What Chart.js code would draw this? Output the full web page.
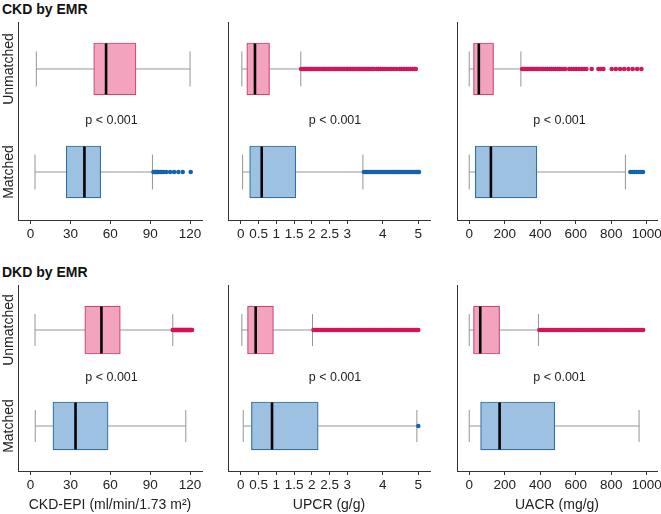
<!DOCTYPE html>
<html><head><meta charset="utf-8">
<script src="https://cdn.jsdelivr.net/npm/chart.js@4.4.1/dist/chart.umd.min.js"></script>
<style>
html,body{margin:0;padding:0;background:#fff;}
#wrap{position:relative;width:661px;height:514px;overflow:hidden;font-family:"Liberation Sans",Arial,sans-serif;}
.ttl{position:absolute;left:2px;font-weight:bold;font-size:14px;line-height:16px;color:#111;white-space:nowrap;}
.cv{position:absolute;}
</style></head>
<body><div id="wrap"></div>
<script>
// ---------- data ----------
const rowTitles = ["CKD by EMR", "DKD by EMR"];
const groups = ["Unmatched", "Matched"];
const groupPos = [1, 0];
const xTitles = ["CKD-EPI (ml/min/1.73 m\u00B2)", "UPCR (g/g)", "UACR (mg/g)"];
const egfrTicks = [0, 30, 60, 90, 120];
const upcrTicks = [0, 0.5, 1, 1.5, 2, 2.5, 3, 4, 5];
const uacrTicks = [0, 200, 400, 600, 800, 1000];
const pText = "p < 0.001";

// five-number summaries: [min, q1, median, q3, max]
const ckdEgfrU = [4.3, 47.5, 56.8, 79.3, 120];
const ckdEgfrM = [3.3, 26.8, 40.5, 52.8, 91.7];
const ckdUpcrU = [0.03, 0.17, 0.40, 0.81, 1.69];
const ckdUpcrM = [0.05, 0.25, 0.59, 1.55, 3.44];
const ckdUacrU = [0, 24, 54, 137, 291];
const ckdUacrM = [0, 34, 122, 381, 880];
const dkdEgfrU = [3.3, 40.8, 53.3, 67.5, 107];
const dkdEgfrM = [3.5, 16.8, 33.8, 58.3, 116.8];
const dkdUpcrU = [0.03, 0.19, 0.42, 0.92, 2.02];
const dkdUpcrM = [0.07, 0.30, 0.88, 2.18, 4.96];
const dkdUacrU = [0, 24, 62, 171, 390];
const dkdUacrM = [0, 64, 171, 482, 957];

// outliers
const ckdEgfrOutU = [];
const ckdEgfrOutM = [92.5, 93.3, 94, 94.8, 95.6, 96.4, 97.5, 98.5, 100, 102, 105, 108, 111.2, 114.5, 120.5];
const ckdUpcrOutU = [1.70,1.74,1.78,1.82,1.86,1.90,1.95,1.99,2.03,2.07,2.12,2.16,2.20,2.24,2.29,2.33,2.37,2.41,2.46,2.50,2.54,2.58,2.63,2.67,2.71,2.75,2.80,2.84,2.88,2.92,2.97,3.01,3.05,3.09,3.14,3.18,3.22,3.26,3.31,3.35,3.39,3.43,3.48,3.52,3.56,3.60,3.65,3.70,3.75,3.83,3.88,3.94,4.00,4.06,4.12,4.19,4.25,4.31,4.38,4.47,4.53,4.59,4.66,4.72,4.78,4.84,4.89,4.93];
const ckdUpcrOutM = [3.47,3.51,3.55,3.59,3.63,3.67,3.71,3.75,3.79,3.83,3.87,3.91,3.95,3.99,4.03,4.07,4.11,4.15,4.19,4.23,4.27,4.31,4.35,4.39,4.43,4.47,4.51,4.55,4.59,4.63,4.67,4.71,4.75,4.79,4.83,4.87,4.91,4.95,4.99,5.02];
const ckdUacrOutU = [298,308,318,328,338,348,358,368,378,388,398,408,418,430,440,452,462,474,486,496,508,518,530,540,563,576,590,603,618,634,648,660,690,728,742,756,803,826,850,873,897,921,946,970];
const ckdUacrOutM = [908,920,932,944,956,968,979];
const dkdEgfrOutU = [107,107.5,108,108.5,109,109.5,110,110.5,111,111.5,112,112.5,113,113.5,114,114.5,115,115.5,116,116.5,117,117.5,118,118.5,119,119.5,120,120.5,121,121.5];
const dkdEgfrOutM = [];
const dkdUpcrOutU = [2.05,2.10,2.15,2.20,2.25,2.30,2.35,2.40,2.45,2.50,2.55,2.60,2.65,2.70,2.75,2.80,2.85,2.90,2.95,3.00,3.05,3.10,3.15,3.20,3.25,3.30,3.35,3.40,3.45,3.50,3.55,3.60,3.65,3.70,3.75,3.80,3.85,3.90,3.95,4.00,4.05,4.10,4.15,4.20,4.25,4.30,4.35,4.40,4.45,4.50,4.55,4.60,4.65,4.70,4.75,4.80,4.85,4.90,4.95,5.00];
const dkdUpcrOutM = [5.0];
const dkdUacrOutU = [395,407,419,431,443,455,467,479,491,503,515,527,539,551,563,575,587,599,611,623,635,647,659,671,683,695,707,719,731,743,755,767,779,791,803,815,827,839,851,863,875,887,899,911,923,935,947,959,971,980];
const dkdUacrOutM = [];

// ---------- style / layout ----------
const FONT = '"Liberation Sans", Arial, sans-serif';
const fillC = ['#F4A3BF', '#9DC1E1'];
const edgeC = ['#C8477A', '#2F6FA8'];
const outC = ['#D6135B', '#1763A6'];
const whiskC = '#959595';
const axisC = '#333333';

const colLayout = [
  {left: 0, width: 210, padR: 8, xmin: -9.5, xmax: 129, ticks: egfrTicks, pdx: 1.5},
  {left: 210, width: 228, padR: 8, xmin: -0.36, xmax: 5.33, ticks: upcrTicks, pdx: 6},
  {left: 439, width: 222, padR: 4, xmin: -69, xmax: 1058, ticks: uacrTicks, pdx: 2.5}
];
const rowLayout = [
  {top: 14, height: 230, xH: 24, ymin: -0.466, ymax: 1.456, boxH: 52, capR: 17.5, titleTop: 1},
  {top: 277, height: 237, xH: 43, ymin: -0.469, ymax: 1.469, boxH: 48, capR: 16, titleTop: 264}
];
const YW = 18, PADT = 8;

const panels = [
  [[ckdEgfrU, ckdEgfrM, ckdEgfrOutU, ckdEgfrOutM], [ckdUpcrU, ckdUpcrM, ckdUpcrOutU, ckdUpcrOutM], [ckdUacrU, ckdUacrM, ckdUacrOutU, ckdUacrOutM]],
  [[dkdEgfrU, dkdEgfrM, dkdEgfrOutU, dkdEgfrOutM], [dkdUpcrU, dkdUpcrM, dkdUpcrOutU, dkdUpcrOutM], [dkdUacrU, dkdUacrM, dkdUacrOutU, dkdUacrOutM]]
];

const annot = {
  id: 'annot',
  afterDatasetsDraw(chart, args, o) {
    const {ctx, chartArea, scales} = chart;
    ctx.save();
    ctx.fillStyle = '#222';
    ctx.textAlign = 'center';
    ctx.textBaseline = 'middle';
    ctx.font = '12.5px ' + FONT;
    ctx.fillText(pText, (chartArea.left + chartArea.right) / 2 + o.dx, scales.y.getPixelForValue(0.5));
    if (o.showGroups) {
      ctx.font = '14px ' + FONT;
      groups.forEach((g, i) => {
        const y = scales.y.getPixelForValue(groupPos[i]);
        ctx.save();
        ctx.translate(chartArea.left - 9, y);
        ctx.rotate(-Math.PI / 2);
        ctx.fillText(g, 0, 0);
        ctx.restore();
      });
    }
    ctx.restore();
  }
};

const wrap = document.getElementById('wrap');
rowTitles.forEach((t, r) => {
  const d = document.createElement('div');
  d.className = 'ttl'; d.textContent = t; d.style.top = rowLayout[r].titleTop + 'px';
  wrap.appendChild(d);
});
for (let r = 0; r < 2; r++) {
  for (let c = 0; c < 3; c++) {
    const R = rowLayout[r], C = colLayout[c];
    const [sU, sM, oU, oM] = panels[r][c];
    const stats = [sU, sM];
    const outs = [oU, oM];
    const cv = document.createElement('canvas');
    cv.className = 'cv';
    cv.width = C.width; cv.height = R.height;
    cv.style.left = C.left + 'px'; cv.style.top = R.top + 'px';
    cv.style.width = C.width + 'px'; cv.style.height = R.height + 'px';
    wrap.appendChild(cv);

    const datasets = [];
    stats.forEach((s, i) => {
      datasets.push({type: 'scatter', showLine: true, data: [{x: s[0], y: groupPos[i]}, {x: s[4], y: groupPos[i]}],
        borderColor: whiskC, borderWidth: 1, pointRadius: 0, order: 10});
      datasets.push({type: 'scatter', data: [{x: s[0], y: groupPos[i]}, {x: s[4], y: groupPos[i]}],
        pointStyle: 'line', pointRotation: 90, pointRadius: R.capR, pointBorderColor: whiskC, pointBorderWidth: 1, order: 9});
    });
    datasets.push({type: 'bar', indexAxis: 'y', data: stats.map((s, i) => ({x: [s[1], s[3]], y: groupPos[i]})),
      backgroundColor: fillC, borderColor: edgeC, borderWidth: 1.2, borderSkipped: false, barThickness: R.boxH, order: 5});
    stats.forEach((s, i) => {
      datasets.push({type: 'scatter', data: outs[i].map(v => ({x: v, y: groupPos[i]})),
        pointRadius: 2.3, pointBackgroundColor: outC[i], pointBorderWidth: 0, order: 3});
    });
    datasets.push({type: 'scatter', data: stats.map((s, i) => ({x: s[2], y: groupPos[i]})),
      pointStyle: 'line', pointRotation: 90, pointRadius: R.boxH / 2 - 0.5, pointBorderColor: '#000', pointBorderWidth: 2.6, order: 1});

    new Chart(cv, {
      type: 'scatter',
      data: {datasets},
      options: {
        responsive: false, animation: false, events: [],
        layout: {autoPadding: false, padding: {top: PADT, right: C.padR, left: 0, bottom: 0}},
        plugins: {legend: {display: false}, tooltip: {enabled: false}, annot: {dx: C.pdx, showGroups: c === 0}},
        scales: {
          x: {
            type: 'linear', min: C.xmin, max: C.xmax, offset: false,
            afterBuildTicks: s => { s.ticks = C.ticks.map(v => ({value: v})); },
            afterFit: s => { s.height = R.xH; s.paddingLeft = 0; s.paddingRight = 0; },
            ticks: {autoSkip: false, maxRotation: 0, minRotation: 0, padding: 2, color: '#222',
              font: {family: FONT, size: 13.5}, callback: v => String(v)},
            grid: {display: true, offset: false, drawOnChartArea: false, drawTicks: true, tickLength: 4, color: axisC},
            border: {display: true, color: axisC, width: 1},
            title: {display: r === 1, text: xTitles[c], color: '#222', font: {family: FONT, size: 14}, padding: 0}
          },
          y: {
            type: 'linear', min: R.ymin, max: R.ymax, offset: false,
            afterFit: s => { s.width = YW; s.paddingTop = 0; s.paddingBottom = 0; },
            ticks: {display: false},
            grid: {display: false, offset: false},
            border: {display: true, color: axisC, width: 1}
          }
        }
      },
      plugins: [annot]
    });
  }
}
</script>
</body></html>
